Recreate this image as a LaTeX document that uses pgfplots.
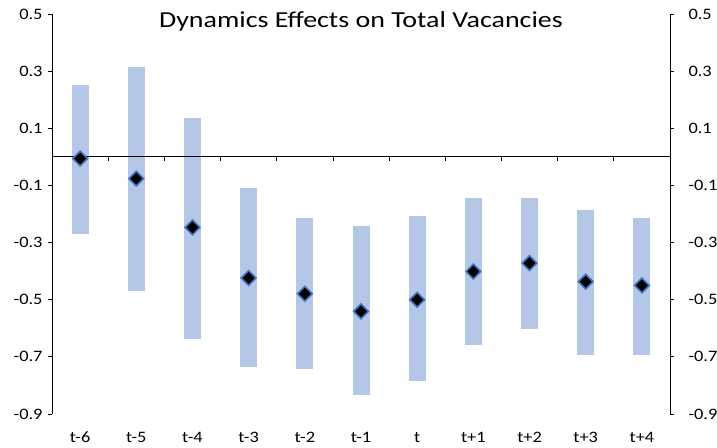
\documentclass[border=0pt]{standalone}
\usepackage{pgfplots}
\pgfplotsset{compat=1.18}
\usepackage{pgfplotstable}
\usepackage{graphicx}
\usepackage{fontspec}
\setmainfont{Carlito}
\definecolor{barblue}{HTML}{B4C7E7}
\definecolor{edgeblue}{HTML}{4472C4}
\newcommand{\sx}[1]{\scalebox{1.15}[1]{#1}}
\pgfplotstableread{
x est lo hi
0 -0.006 -0.270 0.251
1 -0.076 -0.468 0.314
2 -0.247 -0.636 0.137
3 -0.424 -0.735 -0.109
4 -0.479 -0.742 -0.214
5 -0.541 -0.833 -0.242
6 -0.500 -0.785 -0.207
7 -0.401 -0.657 -0.144
8 -0.372 -0.601 -0.144
9 -0.437 -0.693 -0.186
10 -0.450 -0.693 -0.215
}\data
\begin{document}
\begin{tikzpicture}
\useasboundingbox (-52bp,-34bp) rectangle (665bp,414bp);
\pgfplotsset{
  base/.style={
    at={(0,0)}, anchor=south west,
    width=618bp, height=400bp, scale only axis,
    xmin=-0.5, xmax=10.5, ymin=-0.9, ymax=0.5,
    ytick={-0.9,-0.7,-0.5,-0.3,-0.1,0.1,0.3,0.5},
    yticklabel={\sx{\pgfmathprintnumber[fixed,fixed zerofill,precision=1,assume math mode=true]{\tick}}},
    yticklabel style={font=\fontsize{16}{18}\selectfont},
    tick align=outside, major tick length=4bp,
    every tick/.style={black, line width=0.8pt},
    axis line style={black, line width=1pt},
  }
}
\begin{axis}[base,
  axis y line*=right, axis x line=none,
  yticklabel style={xshift=11bp},
]
\end{axis}
\begin{axis}[base,
  axis y line*=left, axis x line*=bottom,
  x axis line style={draw=none},
  xtick=data, xticklabels={\sx{t-6},\sx{t-5},\sx{t-4},\sx{t-3},\sx{t-2},\sx{t-1},\sx{t},\sx{t+1},\sx{t+2},\sx{t+3},\sx{t+4}},
  xtick style={draw=none},
  xticklabel style={font=\fontsize{16}{18}\selectfont, inner sep=0pt, yshift=-14bp},
  yticklabel style={xshift=-2bp},
  clip=false,
]
\addplot [draw=none, mark=none, forget plot,
  error bars/.cd, y dir=both, y explicit,
  error bar style={line width=17bp, color=barblue},
  error mark=none]
  table [x=x, y=est, y error plus expr=\thisrow{hi}-\thisrow{est}, y error minus expr=\thisrow{est}-\thisrow{lo}] {\data};
\draw [black, line width=1.2pt] (axis cs:-0.5,0) -- (axis cs:10.5,0);
\pgfplotsinvokeforeach{0.5,1.5,2.5,3.5,4.5,5.5,6.5,7.5,8.5,9.5}{
  \draw [black, line width=0.8pt] (axis cs:#1,0) -- ([yshift=-4bp]axis cs:#1,0);
}
\addplot [only marks, mark=square*, mark size=5.2bp,
  mark options={rotate=45, fill=black, draw=edgeblue, line width=1.6pt}]
  table [x=x, y=est] {\data};
\node [font=\fontsize{23}{27}\selectfont, anchor=base] at (rel axis cs:0.5,1) [yshift=-14bp] {\scalebox{1.22}[1]{Dynamics Effects on Total Vacancies}};
\end{axis}
\end{tikzpicture}
\end{document}
